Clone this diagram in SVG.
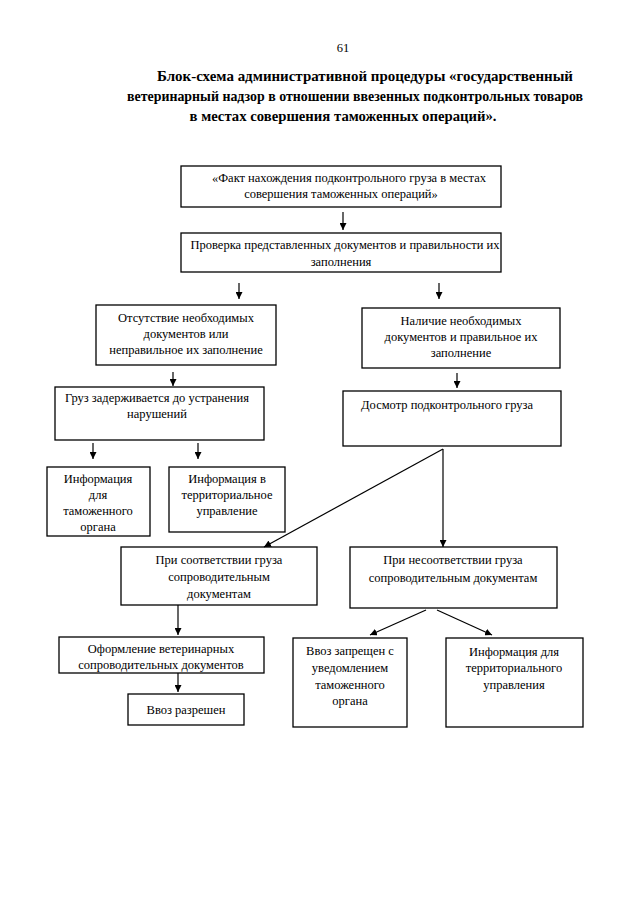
<svg xmlns="http://www.w3.org/2000/svg" width="640" height="905" viewBox="0 0 640 905">
<defs>
<style>
.t{font-family:"Liberation Serif","Times New Roman",serif;font-size:12.5px;fill:#000;text-anchor:middle}
.h{font-family:"Liberation Serif","Times New Roman",serif;font-size:15px;font-weight:bold;fill:#000;text-anchor:middle}
.b{fill:#fff;stroke:#000;stroke-width:1.3}
.c{stroke:#000;stroke-width:1.2;fill:none;marker-end:url(#ah)}
</style>
<marker id="ah" viewBox="0 0 10 10" refX="10" refY="5" markerWidth="7" markerHeight="7" markerUnits="userSpaceOnUse" orient="auto">
<path d="M0,0 L10,5 L0,10 z" fill="#000"/>
</marker>
</defs>
<rect width="640" height="905" fill="#fff"/>
<text x="343" y="52" class="t">61</text>
<text x="365" y="81" class="h" textLength="416" lengthAdjust="spacingAndGlyphs">Блок-схема административной процедуры «государственный</text>
<text x="355" y="101" class="h" textLength="456" lengthAdjust="spacingAndGlyphs">ветеринарный надзор в отношении ввезенных подконтрольных товаров</text>
<text x="343" y="121" class="h" textLength="307" lengthAdjust="spacingAndGlyphs">в местах совершения таможенных операций».</text>

<g id="n1"><rect class="b" x="181" y="166" width="320" height="41"/>
<text class="t" x="349" y="182">«Факт нахождения подконтрольного груза в  местах</text>
<text class="t" x="341" y="198">совершения таможенных операций»</text></g>
<g id="n2"><rect class="b" x="181" y="233" width="320" height="39"/>
<text class="t" x="345" y="249">Проверка представленных документов и правильности их</text>
<text class="t" x="341" y="266">заполнения</text></g>
<g id="n3"><rect class="b" x="96" y="305" width="180" height="60"/>
<text class="t" x="186" y="322">Отсутствие необходимых</text>
<text class="t" x="186" y="338">документов или</text>
<text class="t" x="186" y="354">неправильное их заполнение</text></g>
<g id="n4"><rect class="b" x="362" y="308" width="198" height="60"/>
<text class="t" x="461" y="325">Наличие необходимых</text>
<text class="t" x="461" y="341">документов и правильное их</text>
<text class="t" x="461" y="357">заполнение</text></g>
<g id="n5"><rect class="b" x="55" y="387" width="209" height="53"/>
<text class="t" x="157" y="402">Груз задерживается до устранения</text>
<text class="t" x="157" y="418">нарушений</text></g>
<g id="n6"><rect class="b" x="343" y="391" width="218" height="55"/>
<text class="t" x="447" y="409">Досмотр подконтрольного груза</text></g>
<g id="n7"><rect class="b" x="47" y="467" width="103" height="69"/>
<text class="t" x="98" y="483">Информация</text>
<text class="t" x="98" y="499">для</text>
<text class="t" x="98" y="515">таможенного</text>
<text class="t" x="98" y="531">органа</text></g>
<g id="n8"><rect class="b" x="169" y="467" width="116" height="65"/>
<text class="t" x="227" y="483">Информация  в</text>
<text class="t" x="227" y="499">территориальное</text>
<text class="t" x="227" y="515">управление</text></g>
<g id="n9"><rect class="b" x="121" y="547" width="196" height="58"/>
<text class="t" x="219" y="564">При соответствии груза</text>
<text class="t" x="219" y="581">сопроводительным</text>
<text class="t" x="219" y="598">документам</text></g>
<g id="n10"><rect class="b" x="350" y="547" width="207" height="61"/>
<text class="t" x="453" y="564">При несоответствии груза</text>
<text class="t" x="453" y="582">сопроводительным документам</text></g>
<g id="n11"><rect class="b" x="59" y="637" width="205" height="36"/>
<text class="t" x="161" y="653">Оформление ветеринарных</text>
<text class="t" x="161" y="669">сопроводительных документов</text></g>
<g id="n12"><rect class="b" x="128" y="694" width="116" height="31"/>
<text class="t" x="186" y="714">Ввоз разрешен</text></g>
<g id="n13"><rect class="b" x="293" y="638" width="114" height="89"/>
<text class="t" x="350" y="655">Ввоз запрещен с</text>
<text class="t" x="350" y="672">уведомлением</text>
<text class="t" x="350" y="689">таможенного</text>
<text class="t" x="350" y="705">органа</text></g>
<g id="n14"><rect class="b" x="446" y="638" width="137" height="89"/>
<text class="t" x="514" y="656">Информация  для</text>
<text class="t" x="514" y="672">территориального</text>
<text class="t" x="514" y="689">управления</text></g>

<g id="connectors">
<line class="c" x1="343" y1="212" x2="343" y2="230"/>
<line class="c" x1="239" y1="283" x2="239" y2="299"/>
<line class="c" x1="439" y1="283" x2="439" y2="299"/>
<line class="c" x1="173" y1="372" x2="173" y2="386"/>
<line class="c" x1="457" y1="373" x2="457" y2="388"/>
<line class="c" x1="93" y1="443" x2="93" y2="459"/>
<line class="c" x1="198" y1="443" x2="198" y2="459"/>
<line class="c" x1="443" y1="449" x2="264" y2="547"/>
<line class="c" x1="443" y1="449" x2="443" y2="547"/>
<line class="c" x1="178" y1="605" x2="178" y2="635"/>
<line class="c" x1="178" y1="673" x2="178" y2="692"/>
<line class="c" x1="426" y1="610" x2="370" y2="635"/>
<line class="c" x1="437" y1="610" x2="492" y2="635"/>
</g>
</svg>
